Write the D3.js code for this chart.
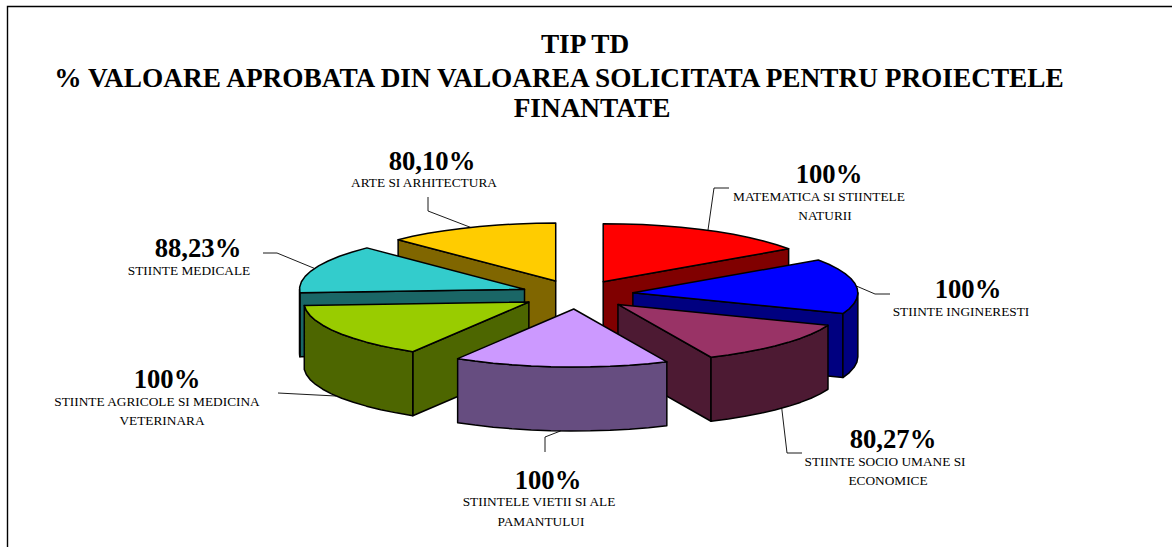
<!DOCTYPE html>
<html>
<head>
<meta charset="utf-8">
<script src="https://cdn.jsdelivr.net/npm/d3@7"></script>
<style>
html,body{margin:0;padding:0;background:#fff;overflow:hidden}
svg{display:block}
text{font-family:"Liberation Serif","Times New Roman",serif;fill:#000}
</style>
</head>
<body>
<svg id="chart" width="1172" height="547"></svg>
<script>
// ---- data ----
const categories = [
  ["MATEMATICA SI STIINTELE", "NATURII"],
  ["STIINTE INGINERESTI"],
  ["STIINTE SOCIO UMANE SI", "ECONOMICE"],
  ["STIINTELE VIETII SI ALE", "PAMANTULUI"],
  ["STIINTE AGRICOLE SI MEDICINA", "VETERINARA"],
  ["STIINTE MEDICALE"],
  ["ARTE SI ARHITECTURA"]
];
const values = [100, 100, 80.27, 100, 100, 88.23, 80.10];
const valueLabels = ["100%", "100%", "80,27%", "100%", "100%", "88,23%", "80,10%"];
const topColors = ["#ff0000", "#0000ff", "#993366", "#cc99ff", "#99cc00", "#33cccc", "#ffcc00"];
const titleLines = [
  "TIP TD",
  "% VALOARE APROBATA DIN VALOAREA SOLICITATA PENTRU PROIECTELE",
  "FINANTATE"
];

// ---- layout (not data) ----
const W = 1172, H = 547;
const cx = 577, cy = 294.5, rx = 225, ry = 58, depth = 64, explode = 0.25;
const paintOrder = [6, 0, 5, 1, 2, 4, 3];
const titleLayout = [[585, 53], [559, 87], [592, 117]];
const labelLayout = [
  {v: [829, 183], c: [[819, 201], [825, 220]], l: [[714, 188], [729, 188]]},
  {v: [968, 298], c: [[961, 316]],             l: [[875, 294], [890, 294]]},
  {v: [893, 448], c: [[885, 466], [888, 485]], l: [[787, 453], [802, 453]]},
  {v: [548, 489], c: [[539, 506], [541, 526]], l: [[545, 437], [545, 452]]},
  {v: [167, 388], c: [[157, 406], [162, 425]], l: [[278, 393]]},
  {v: [198, 257], c: [[189, 275]],             l: [[277, 253], [263, 253]]},
  {v: [432, 170], c: [[424, 187]],             l: [[428, 211], [428, 197]]}
];

const svg = d3.select("#chart");

// left and top frame lines of the chart area
svg.append("path")
  .attr("d", d3.line()([[7.5, H], [7.5, 6.5], [W, 6.5]]))
  .attr("fill", "none").attr("stroke", "#000").attr("stroke-width", 1.4);

const title = svg.append("g");
titleLines.forEach((t, i) => {
  title.append("text")
    .attr("x", titleLayout[i][0]).attr("y", titleLayout[i][1])
    .attr("text-anchor", "middle")
    .attr("font-size", 27.3).attr("font-weight", "bold")
    .text(t);
});

// ---- pie geometry through d3.pie and scales ----
const arcs = d3.pie().sort(null).value(d => d).startAngle(0).endAngle(2 * Math.PI)(values);
const sx = d3.scaleLinear().domain([-1, 1]).range([-rx, rx]);
const sy = d3.scaleLinear().domain([-1, 1]).range([ry, -ry]); // +1 = up (12 o'clock)
const line = d3.line();
const apex = a => {
  const m = (a.startAngle + a.endAngle) / 2;
  return [cx + explode * sx(Math.sin(m)), cy + explode * sy(Math.cos(m))];
};
const onRim = (a, t, dz = 0) => {
  const p = apex(a);
  return [p[0] + sx(Math.sin(t)), p[1] + sy(Math.cos(t)) + dz];
};
const sample = (t0, t1) => {
  const n = Math.max(2, Math.round((t1 - t0) / 0.09));
  return d3.range(n + 1).map(i => t0 + (t1 - t0) * i / n);
};
const darken = c => {
  const r = d3.rgb(c);
  return d3.rgb(r.r / 2, r.g / 2, r.b / 2).formatHex();
};

const pieG = svg.append("g");
paintOrder.forEach(i => {
  const a = arcs[i], p = apex(a), col = topColors[i], dark = darken(col);
  const s = a.startAngle, e = a.endAngle;
  const g = pieG.append("g");
  const face = (pts, fill) => g.append("path")
    .attr("d", line(pts) + "Z").attr("fill", fill)
    .attr("stroke", "#000").attr("stroke-width", 1.5).attr("stroke-linejoin", "round");

  const pd = [p[0], p[1] + depth];
  if (Math.sin(s) < -1e-6) face([p, onRim(a, s), onRim(a, s, depth), pd], dark);
  if (Math.sin(e) > 1e-6)  face([p, onRim(a, e), onRim(a, e, depth), pd], dark);

  const f0 = Math.max(s, Math.PI / 2), f1 = Math.min(e, 3 * Math.PI / 2);
  if (f1 > f0) {
    const ts = sample(f0, f1);
    face(ts.map(t => onRim(a, t)).concat(ts.slice().reverse().map(t => onRim(a, t, depth))), dark);
  }
  face([p].concat(sample(s, e).map(t => onRim(a, t))), col);
});

// ---- labels and leader lines ----
arcs.forEach((a, i) => {
  const lay = labelLayout[i];
  const m = (a.startAngle + a.endAngle) / 2;
  const front = Math.cos(m) < 0;
  const start = onRim(a, m, front ? depth : 0);
  svg.append("path")
    .attr("d", line([start].concat(lay.l)))
    .attr("fill", "none").attr("stroke", "#000").attr("stroke-width", 0.9);
  svg.append("text")
    .attr("x", lay.v[0]).attr("y", lay.v[1])
    .attr("text-anchor", "middle").attr("font-size", 26.67).attr("font-weight", "bold")
    .text(valueLabels[i]);
  categories[i].forEach((t, j) => {
    svg.append("text")
      .attr("x", lay.c[j][0]).attr("y", lay.c[j][1])
      .attr("text-anchor", "middle").attr("font-size", 13.33)
      .text(t);
  });
});
</script>
</body>
</html>
